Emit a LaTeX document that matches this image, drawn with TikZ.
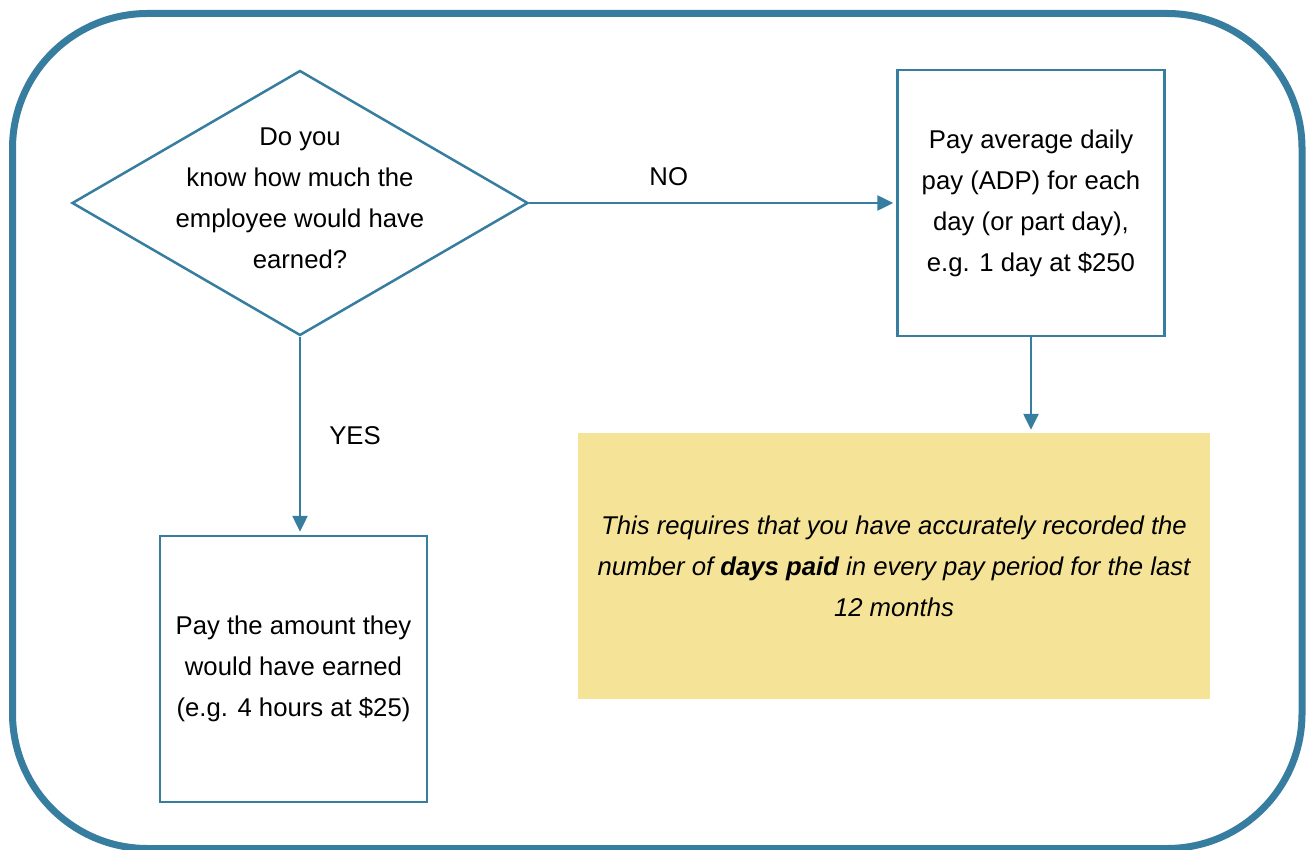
\documentclass[tikz,border=0pt]{standalone}
\usepackage{fontspec}
\setmainfont{Liberation Sans}
\usepackage{tikz}
\usetikzlibrary{arrows.meta, positioning, shapes.geometric}
\definecolor{flowblue}{RGB}{55,125,160}
\definecolor{noteyellow}{RGB}{245,228,151}

\begin{document}
\begin{tikzpicture}[
  x=1pt, y=-1pt,
  font=\fontsize{25.7}{41}\selectfont,
  frame/.style={draw=flowblue, line width=7pt, rounded corners=135pt},
  box/.style={draw=flowblue, line width=2.5pt, align=center, minimum width=267pt, minimum height=266pt, inner sep=0pt},
  question/.style={draw=flowblue, line width=2.5pt, diamond, minimum width=456pt, minimum height=265pt, inner sep=0pt},
  note/.style={fill=noteyellow, align=center, minimum width=632pt, minimum height=266pt, inner sep=0pt, font=\fontsize{25.7}{41}\selectfont\itshape},
  arrow/.style={draw=flowblue, line width=2.5pt, -{Triangle[length=16pt, width=15pt]}, shorten >=3pt}
]
\useasboundingbox (0,0) rectangle (1311,850);
\draw[frame] (12.5,13.5) rectangle (1302,848.5);
\node[question, label={[align=center, yshift=5pt]center:Do you\\know how much the\\employee would have\\earned?}] (q) at (300,203) {};
\node[box, right=367pt of q] (adp) {Pay average daily\\pay (ADP) for each\\day (or part day),\\e.g. 1 day at \$250};
\node[box, below=198pt of q, xshift=-6.5pt] (pay) {Pay the amount they\\would have earned\\(e.g. 4 hours at \$25)};
\node[note] (rec) at (894,566) {This requires that you have accurately recorded the\\number of \textbf{days paid} in every pay period for the last\\12 months};
\draw[arrow] (q) -- node[pos=0.38, yshift=26pt] (no) {NO} (adp);
\draw[arrow] (q.south) -- node[midway, xshift=55pt] (yes) {YES} (q.south |- pay.north);
\draw[arrow] (adp.south) -- (adp.south |- rec.north);
\end{tikzpicture}
\end{document}
